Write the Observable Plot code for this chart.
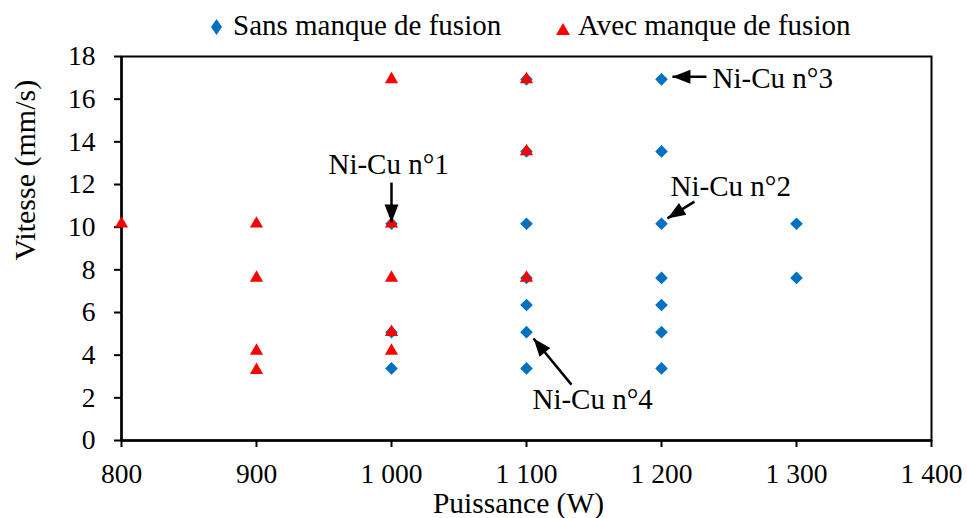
<!DOCTYPE html>
<html><head><meta charset="utf-8">
<script src="https://cdn.jsdelivr.net/npm/d3@7"></script>
<script src="https://cdn.jsdelivr.net/npm/@observablehq/plot@0.6"></script>
<style>
html,body{margin:0;padding:0;background:#fff;}
body{width:967px;height:518px;overflow:hidden;font-family:"Liberation Serif","Times New Roman",serif;color:#000;}
#legend{position:relative;width:967px;height:45px;font-size:29px;line-height:1;}
#legend span.lab{position:absolute;top:11px;white-space:nowrap;}
#legend svg{position:absolute;}
</style></head><body>
<div id="legend"></div>
<div id="chart"></div>
<script>
// Series: "Sans manque de fusion" (blue diamonds)
const sansPower = [1000, 1000, 1000, 1100, 1100, 1100, 1100, 1100, 1100, 1100, 1200, 1200, 1200, 1200, 1200, 1200, 1200, 1300, 1300];
const sansSpeed = [10.16, 5.08, 3.38, 16.93, 13.55, 10.16, 7.62, 6.35, 5.08, 3.38, 16.93, 13.55, 10.16, 7.62, 6.35, 5.08, 3.38, 10.16, 7.62];
// Series: "Avec manque de fusion" (red triangles)
const avecPower = [800, 900, 900, 900, 900, 1000, 1000, 1000, 1000, 1000, 1100, 1100, 1100];
const avecSpeed = [10.16, 10.16, 7.62, 4.2, 3.3, 16.93, 10.16, 7.62, 5.08, 4.2, 16.93, 13.55, 7.62];

const seriesNames = ["Sans manque de fusion", "Avec manque de fusion"];
const seriesColors = ["#0070C0", "#FF0000"];

// Axes
const xTicks = [800, 900, 1000, 1100, 1200, 1300, 1400];
const xTickLabels = ["800", "900", "1 000", "1 100", "1 200", "1 300", "1 400"];
const yTicks = [0, 2, 4, 6, 8, 10, 12, 14, 16, 18];
const xTitle = "Puissance (W)";
const yTitle = "Vitesse (mm/s)";

// Annotations (data coordinates)
const annoText = ["Ni-Cu n°1", "Ni-Cu n°2", "Ni-Cu n°3", "Ni-Cu n°4"];
const annoX = [953.3, 1206.7, 1237.8, 1104.4];
const annoY = [12.94, 11.9, 16.97, 1.92];
const arrowX1 = [1000, 1224.4, 1233.3, 1133.3];
const arrowY1 = [12.09, 11.2, 17.05, 2.62];
const arrowX2 = [1000, 1204.4, 1208.1, 1105.2];
const arrowY2 = [10.22, 10.41, 17.05, 4.78];

// Build tables
const sans = sansPower.map((p, i) => ({p, v: sansSpeed[i]}));
const avec = avecPower.map((p, i) => ({p, v: avecSpeed[i]}));
const annos = annoText.map((t, i) => ({t, x: annoX[i], y: annoY[i]}));

const W = 967, H = 473, mL = 121, mR = 36, mT = 11, mB = 78;
const xs = Plot.scale({x: {domain: [800, 1400], range: [mL, W - mR]}});
const ys = Plot.scale({y: {domain: [0, 18], range: [H - mB, mT]}});
const arrows = arrowX1.map((x1, i) => {
  const dx = xs.apply(arrowX2[i]) - xs.apply(x1);
  const dy = ys.apply(arrowY2[i]) - ys.apply(arrowY1[i]);
  return {x1, y1: arrowY1[i], x2: arrowX2[i], y2: arrowY2[i], angle: Math.atan2(dy, dx) * 180 / Math.PI};
});

// Arrow head symbol: tip at origin, pointing along +x
const arrowHead = {
  draw(context) {
    const L = 18, Wd = 14;
    context.moveTo(0, 0);
    context.lineTo(-L, -Wd / 2);
    context.lineTo(-L, Wd / 2);
    context.closePath();
  }
};

const font = "'Liberation Serif', 'Times New Roman', serif";
const chart = Plot.plot({
  width: W, height: H,
  marginLeft: mL, marginRight: mR, marginTop: mT, marginBottom: mB,
  style: {fontFamily: font, fontSize: "27.5px", color: "#000", background: "#fff", overflow: "visible"},
  x: {domain: [800, 1400]},
  y: {domain: [0, 18]},
  marks: [
    Plot.frame({stroke: "#000", strokeWidth: 2}),
    Plot.axisX({ticks: xTicks, tickFormat: d => xTickLabels[xTicks.indexOf(d)], tickSize: 7, tickPadding: 16, strokeWidth: 2, label: null}),
    Plot.axisY({ticks: yTicks, tickSize: 7, tickPadding: 19, strokeWidth: 2, label: null}),
    Plot.ruleX([800], {stroke: "#000", strokeWidth: 2.5}),
    Plot.ruleY([0], {stroke: "#000", strokeWidth: 2.5}),
    Plot.dot(sans, {x: "p", y: "v", symbol: "diamond2", r: 5.7, fill: seriesColors[0], stroke: "none"}),
    Plot.dot(avec, {x: "p", y: "v", symbol: "triangle", r: 4.9, fill: seriesColors[1], stroke: "none"}),
    Plot.link(arrows, {x1: "x1", y1: "y1", x2: "x2", y2: "y2", stroke: "#000", strokeWidth: 2.5}),
    Plot.dot(arrows, {x: "x2", y: "y2", symbol: arrowHead, rotate: "angle", fill: "#000", stroke: "none", r: 5}),
    Plot.text(annos, {x: "x", y: "y", text: "t", textAnchor: "start", lineAnchor: "middle", fontSize: 29, fill: "#000"}),
    Plot.text([xTitle], {text: d => d, frameAnchor: "bottom", dy: 63, dx: -8, lineAnchor: "middle", fontSize: 29.5, fill: "#000"}),
    Plot.text([yTitle], {text: d => d, frameAnchor: "left", dx: -96, dy: 12, rotate: -90, lineAnchor: "middle", fontSize: 30, fill: "#000"})
  ]
});
document.getElementById("chart").appendChild(chart);

// Legend
const legend = document.getElementById("legend");
const legendItems = [
  {name: seriesNames[0], color: seriesColors[0], sx: 211, tx: 233, shape: "M5.5,0L11,8L5.5,16L0,8Z", sw: 11, sh: 16, sy: 19},
  {name: seriesNames[1], color: seriesColors[1], sx: 556, tx: 578, shape: "M7,0L14,12L0,12Z", sw: 14, sh: 12, sy: 23}
];
legendItems.forEach(it => {
  const s = document.createElementNS("http://www.w3.org/2000/svg", "svg");
  s.setAttribute("width", it.sw); s.setAttribute("height", it.sh);
  s.style.left = it.sx + "px"; s.style.top = it.sy + "px";
  const p = document.createElementNS("http://www.w3.org/2000/svg", "path");
  p.setAttribute("d", it.shape); p.setAttribute("fill", it.color);
  s.appendChild(p); legend.appendChild(s);
  const t = document.createElement("span");
  t.className = "lab"; t.textContent = it.name; t.style.left = it.tx + "px";
  legend.appendChild(t);
});
</script>
</body></html>
